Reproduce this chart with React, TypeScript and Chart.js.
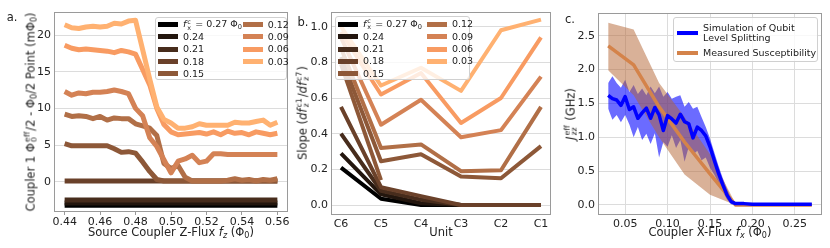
import React, { useEffect, useRef } from 'react';
import { Chart, registerables } from 'chart.js';
Chart.register(...registerables);

const FONT = "'DejaVu Sans', sans-serif";
Chart.defaults.font.family = FONT;
Chart.defaults.color = '#222';

// ---------- data ----------
const fxLabels = ['0.27', '0.24', '0.21', '0.18', '0.15', '0.12', '0.09', '0.06', '0.03'];
const copperColors = ['#000000', '#23160e', '#472c1c', '#6a412a', '#8d5838', '#b16f47', '#d48255', '#f89b62', '#ffb171'];

// panel a
const fzA = [0.440, 0.444, 0.448, 0.452, 0.456, 0.460, 0.464, 0.468, 0.472, 0.476, 0.480, 0.484, 0.488, 0.492, 0.496, 0.500, 0.504, 0.508, 0.512, 0.516, 0.520, 0.524, 0.528, 0.532, 0.536, 0.540, 0.544, 0.548, 0.552, 0.556, 0.560];
const a027 = [-3.2, -3.2, -3.2, -3.2, -3.2, -3.2, -3.2, -3.2, -3.2, -3.2, -3.2, -3.2, -3.2, -3.2, -3.2, -3.2, -3.2, -3.2, -3.2, -3.2, -3.2, -3.2, -3.2, -3.2, -3.2, -3.2, -3.2, -3.2, -3.2, -3.2, -3.2];
const a024 = [-2.9, -2.9, -2.9, -2.9, -2.9, -2.9, -2.9, -2.9, -2.9, -2.9, -2.9, -2.9, -2.9, -2.9, -2.9, -2.9, -2.9, -2.9, -2.9, -2.9, -2.9, -2.9, -2.9, -2.9, -2.9, -2.9, -2.9, -2.9, -2.9, -2.9, -2.9];
const a021 = [-2.5, -2.5, -2.5, -2.5, -2.5, -2.5, -2.5, -2.5, -2.5, -2.5, -2.5, -2.5, -2.5, -2.5, -2.5, -2.5, -2.5, -2.5, -2.5, -2.5, -2.5, -2.5, -2.5, -2.5, -2.5, -2.5, -2.5, -2.5, -2.5, -2.5, -2.5];
const a018 = [0.1, 0.1, 0.1, 0.1, 0.1, 0.1, 0.1, 0.1, 0.1, 0.1, 0.1, 0.1, 0.1, 0.1, 0.1, 0.1, 0.1, 0.1, 0.1, 0.1, 0.1, 0.1, 0.1, 0.1, 0.1, 0.1, 0.1, 0.1, 0.1, 0.1, 0.1];
const a015 = [5.2, 4.9, 4.9, 4.9, 4.9, 4.9, 4.9, 4.5, 4.0, 4.1, 3.9, 2.7, 1.4, 0.3, 0.1, 0.1, 0.1, 0.1, 0.1, 0.1, 0.1, 0.1, 0.1, 0.1, 0.1, 0.1, 0.1, 0.1, 0.1, 0.1, 0.1];
const a012 = [9.2, 8.9, 9.0, 8.9, 8.6, 8.9, 8.4, 8.7, 8.6, 8.6, 7.9, 7.6, 7.3, 6.3, 2.5, 1.8, 2.2, 0.6, 0.1, 0.1, 0.1, 0.1, 0.1, 0.2, 0.4, 0.2, 0.3, 0.1, 0.3, 0.2, 0.4];
const a009 = [12.3, 11.8, 12.1, 12.0, 12.2, 12.2, 12.3, 12.5, 12.3, 12.0, 10.0, 9.0, 6.0, 4.8, 3.0, 1.2, 2.8, 3.1, 3.6, 2.6, 2.8, 3.8, 3.8, 3.7, 3.7, 3.7, 3.7, 3.7, 3.7, 3.7, 3.7];
const a006 = [18.6, 18.2, 18.0, 18.1, 18.0, 17.9, 17.8, 17.6, 17.9, 17.7, 17.4, 15.3, 13.2, 10.0, 7.8, 6.8, 6.4, 6.5, 6.6, 6.7, 6.5, 6.8, 6.4, 6.9, 6.6, 6.7, 6.4, 6.8, 6.6, 6.4, 6.6];
const a003 = [21.4, 21.0, 20.9, 21.1, 21.2, 21.1, 21.2, 21.6, 21.5, 21.9, 22.0, 18.0, 14.0, 10.2, 8.5, 8.0, 7.3, 7.3, 7.5, 7.9, 7.7, 7.7, 7.7, 7.7, 8.1, 8.0, 8.0, 8.2, 8.4, 7.7, 8.1];
const seriesA = [a027, a024, a021, a018, a015, a012, a009, a006, a003];
const xTicksA = [0.44, 0.46, 0.48, 0.50, 0.52, 0.54, 0.56];
const yTicksA = [0, 5, 10, 15, 20];

// panel b
const units = ['C6', 'C5', 'C4', 'C3', 'C2', 'C1'];
const b027 = [0.21, 0.035, 0.0, 0.0, 0.0, 0.0];
const b024 = [0.29, 0.06, 0.01, 0.0, 0.0, 0.0];
const b021 = [0.40, 0.08, 0.03, 0.0, 0.0, 0.0];
const b018 = [0.55, 0.10, 0.05, 0.0, 0.0, 0.0];
const b015 = [0.83, 0.245, 0.285, 0.16, 0.15, 0.33];
const b012 = [0.88, 0.32, 0.34, 0.19, 0.195, 0.55];
const b009 = [0.94, 0.45, 0.59, 0.38, 0.42, 0.72];
const b006 = [0.97, 0.62, 0.74, 0.46, 0.60, 0.94];
const b003 = [1.00, 0.67, 0.77, 0.64, 0.98, 1.04];
const bPartial = [0.79, 0.14, null, null, null, null];
const seriesB = [b027, b024, b021, b018, b015, b012, b009, b006, b003];
const yTicksB = [0, 0.2, 0.4, 0.6, 0.8, 1.0];

// panel c
const fxSim = [0.030, 0.035, 0.040, 0.045, 0.050, 0.055, 0.060, 0.065, 0.070, 0.075, 0.080, 0.085, 0.090, 0.095, 0.100, 0.105, 0.110, 0.115, 0.120, 0.125, 0.130, 0.135, 0.140, 0.145, 0.150, 0.155, 0.160, 0.165, 0.170, 0.175, 0.180, 0.19, 0.20, 0.21, 0.22, 0.23, 0.24, 0.25, 0.26, 0.27];
const simJ = [1.62, 1.57, 1.55, 1.47, 1.60, 1.41, 1.45, 1.28, 1.36, 1.43, 1.28, 1.44, 1.33, 1.10, 1.32, 1.27, 1.21, 1.34, 1.23, 1.20, 0.99, 1.15, 1.10, 1.02, 0.86, 0.66, 0.47, 0.30, 0.15, 0.05, 0.02, 0.02, 0.01, 0.01, 0.01, 0.01, 0.01, 0.01, 0.01, 0.01];
const simUp = [1.80, 1.90, 1.80, 1.73, 1.85, 1.67, 1.77, 1.64, 1.72, 1.62, 1.75, 1.65, 1.75, 1.60, 1.67, 1.57, 1.60, 1.62, 1.45, 1.52, 1.42, 1.45, 1.30, 1.15, 0.98, 0.78, 0.58, 0.40, 0.24, 0.10, 0.04, 0.03, 0.03, 0.02, 0.02, 0.02, 0.02, 0.02, 0.02, 0.02];
const simLo = [1.42, 1.26, 1.33, 1.22, 1.33, 1.19, 1.00, 1.15, 0.96, 1.05, 0.90, 1.06, 0.70, 0.93, 0.86, 1.03, 0.84, 0.96, 0.64, 0.86, 0.74, 0.80, 0.66, 0.70, 0.55, 0.45, 0.33, 0.20, 0.08, 0.01, 0.00, 0.01, 0.00, 0.00, 0.00, 0.00, 0.00, 0.00, 0.00, 0.00];
const fxMeas = [0.03, 0.06, 0.09, 0.12, 0.15, 0.18, 0.21, 0.24, 0.27];
const measJ = [2.35, 2.07, 1.45, 0.93, 0.46, 0.0, 0.0, 0.0, 0.0];
const measUp = [2.69, 2.59, 1.80, 1.30, 0.75, 0.02, 0.01, 0.01, 0.01];
const measLo = [1.99, 1.62, 1.00, 0.45, 0.15, 0.0, 0.0, 0.0, 0.0];
const xTicksC = [0.05, 0.10, 0.15, 0.20, 0.25];
const yTicksC = [0, 0.5, 1.0, 1.5, 2.0, 2.5];

// ---------- styling ----------
const FRAME = '#9a9a9a';
const GRID = '#dcdcdc';
const TICK_FONT = { family: FONT, size: 11 };
const BLUE = '#0000ff';
const ORANGE = '#d4834a';

const framePlugin = {
  id: 'frame',
  afterDraw(chart: any) {
    const { ctx, chartArea: a } = chart;
    ctx.save();
    ctx.strokeStyle = FRAME;
    ctx.lineWidth = 1;
    ctx.strokeRect(Math.round(a.left) + 0.5, Math.round(a.top) + 0.5, Math.round(a.right - a.left) - 1, Math.round(a.bottom - a.top) - 1);
    ctx.restore();
  },
};

function xScale(min: number, max: number, ticks: number[], fmt: (v: number) => string, height: number, gridOnArea: boolean, tickMarks: boolean) {
  return {
    type: 'linear',
    min, max,
    afterBuildTicks: (s: any) => { s.ticks = ticks.map((v) => ({ value: v })); },
    afterFit: (s: any) => { s.height = height; },
    ticks: { callback: (v: any) => fmt(Number(v)), font: TICK_FONT, padding: tickMarks ? 1 : 3, maxRotation: 0, autoSkip: false, color: '#222' },
    grid: { drawOnChartArea: gridOnArea, color: GRID, drawTicks: tickMarks, tickLength: 3, tickColor: FRAME, lineWidth: 1 },
    border: { display: false },
  };
}
function yScale(min: number, max: number, ticks: number[], fmt: (v: number) => string, width: number) {
  return {
    type: 'linear',
    min, max,
    afterBuildTicks: (s: any) => { s.ticks = ticks.map((v) => ({ value: v })); },
    afterFit: (s: any) => { s.width = width; },
    ticks: { callback: (v: any) => fmt(Number(v)), font: TICK_FONT, padding: 3, color: '#222' },
    grid: { drawOnChartArea: true, color: GRID, drawTicks: false, lineWidth: 1 },
    border: { display: false },
  };
}
function baseOptions(padding: any, scales: any) {
  return {
    responsive: false,
    animation: false,
    devicePixelRatio: 1,
    events: [],
    layout: { padding },
    plugins: { legend: { display: false }, tooltip: { enabled: false }, title: { display: false } },
    scales,
  };
}

function configA() {
  return {
    type: 'line',
    data: {
      datasets: seriesA.map((vals, i) => ({
        label: fxLabels[i],
        data: fzA.map((x, j) => ({ x, y: vals[j] })),
        borderColor: copperColors[i],
        backgroundColor: copperColors[i],
        borderWidth: 5,
        pointRadius: 0,
        fill: false,
        tension: 0,
        order: 20 - i,
        borderJoinStyle: 'round',
        borderCapStyle: 'butt',
      })),
    },
    options: baseOptions({ left: 10, right: 8, top: 12, bottom: 16 }, {
      x: xScale(0.434, 0.566, xTicksA, (v) => v.toFixed(2), 20, false, true),
      y: yScale(-4.13, 23.14, yTicksA, (v) => String(v), 44),
    }),
    plugins: [framePlugin],
  };
}

function configB() {
  const ds: any[] = seriesB.map((vals, i) => ({
    label: fxLabels[i],
    data: vals.map((y, j) => ({ x: j, y })),
    borderColor: copperColors[i],
    borderWidth: 4,
    pointRadius: 0,
    fill: false,
    tension: 0,
    order: 20 - i,
    borderJoinStyle: 'round',
  }));
  ds.push({
    label: fxLabels[4] + ' (partial)',
    data: bPartial.map((y, j) => ({ x: j, y })),
    borderColor: copperColors[4],
    borderWidth: 4,
    pointRadius: 0,
    fill: false,
    spanGaps: false,
    order: 15,
  });
  return {
    type: 'line',
    data: { datasets: ds },
    options: baseOptions({ left: 5, right: 3, top: 12, bottom: 13 }, {
      x: xScale(-0.25, 5.25, [0, 1, 2, 3, 4, 5], (v) => units[Math.round(v)] ?? '', 20, false, false),
      y: yScale(-0.056, 1.0824, yTicksB, (v) => v.toFixed(1), 30),
    }),
    plugins: [framePlugin],
  };
}

function configC() {
  const pts = (xs: number[], ys: number[]) => xs.map((x, j) => ({ x, y: ys[j] }));
  return {
    type: 'line',
    data: {
      datasets: [
        { label: 'simUp', data: pts(fxSim, simUp), borderWidth: 0, borderColor: 'rgba(0,0,0,0)', pointRadius: 0, fill: '+1', backgroundColor: 'rgba(0,0,255,0.58)', order: 4 },
        { label: 'simLo', data: pts(fxSim, simLo), borderWidth: 0, borderColor: 'rgba(0,0,0,0)', pointRadius: 0, fill: false, order: 4 },
        { label: 'measUp', data: pts(fxMeas, measUp), borderWidth: 0, borderColor: 'rgba(0,0,0,0)', pointRadius: 0, fill: '+1', backgroundColor: 'rgba(180,100,50,0.5)', order: 3 },
        { label: 'measLo', data: pts(fxMeas, measLo), borderWidth: 0, borderColor: 'rgba(0,0,0,0)', pointRadius: 0, fill: false, order: 3 },
        { label: 'Measured Susceptibility', data: pts(fxMeas, measJ), borderColor: ORANGE, borderWidth: 3.5, pointRadius: 0, fill: false, order: 2, borderJoinStyle: 'round' },
        { label: 'Simulation of Qubit Level Splitting', data: pts(fxSim, simJ), borderColor: BLUE, borderWidth: 3.5, pointRadius: 0, fill: false, order: 1, borderJoinStyle: 'round' },
      ],
    },
    options: baseOptions({ left: 14, right: 8, top: 13, bottom: 13 }, {
      x: xScale(0.018, 0.282, xTicksC, (v) => v.toFixed(2), 20, true, false),
      y: yScale(-0.148, 2.835, yTicksC, (v) => v.toFixed(1), 30),
    }),
    plugins: [framePlugin],
  };
}

// ---------- components ----------
function ChartCanvas({ left, width, make }: { left: number; width: number; make: () => any }) {
  const ref = useRef<HTMLCanvasElement>(null);
  useEffect(() => {
    const chart = new Chart(ref.current as HTMLCanvasElement, make());
    return () => chart.destroy();
  }, []);
  return <canvas ref={ref} width={width} height={248} style={{ position: 'absolute', left, top: 0, width, height: 248 }} />;
}

const SS = ({ sup, sub }: { sup: string; sub: string }) => (
  <span style={{ display: 'inline-flex', flexDirection: 'column', verticalAlign: 'middle', fontSize: '0.68em', lineHeight: 0.95, margin: '0 1px' }}>
    <span style={{ fontStyle: 'normal' }}>{sup}</span>
    <span>{sub}</span>
  </span>
);
const Sub = ({ children }: { children: any }) => <sub style={{ fontSize: '0.7em', verticalAlign: '-0.25em', lineHeight: 0 }}>{children}</sub>;

const txt: React.CSSProperties = { position: 'absolute', fontFamily: FONT, color: '#222', whiteSpace: 'nowrap', lineHeight: 1 };

function Title({ x, y, rotate, size = 11.5, children }: { x: number; y: number; rotate?: boolean; size?: number; children: any }) {
  return (
    <div style={{ ...txt, left: x, top: y, fontSize: size, transform: `translate(-50%,-50%)${rotate ? ' rotate(-90deg)' : ''}` }}>{children}</div>
  );
}

const fxFirst = (
  <span>
    <i>f</i><SS sup="c" sub="x" /> = 0.27 Φ<Sub>0</Sub>
  </span>
);

function FxLegend({ left, top, width, height, col2, rowY }: { left: number; top: number; width: number; height: number; col2: number; rowY: number }) {
  const items = fxLabels.map((l, i) => ({ label: i === 0 ? fxFirst : l, color: copperColors[i] }));
  return (
    <div style={{ position: 'absolute', left, top, width, height, background: 'rgba(255,255,255,0.8)', border: '1px solid #d0d0d0', borderRadius: 3, boxSizing: 'border-box' }}>
      {items.map((it, i) => {
        const col = i < 5 ? 0 : 1;
        const row = i < 5 ? i : i - 5;
        const x = col === 0 ? 2 : col2;
        const y = rowY + row * 12.35;
        return (
          <React.Fragment key={i}>
            <div style={{ position: 'absolute', left: x, top: y - 2.5, width: 20, height: 5, background: it.color }} />
            <div style={{ ...txt, left: x + 25, top: y, transform: 'translateY(-50%)', fontSize: 9.5 }}>{it.label}</div>
          </React.Fragment>
        );
      })}
    </div>
  );
}

function CLegend() {
  return (
    <div style={{ position: 'absolute', left: 673, top: 17, width: 145, height: 45, background: 'rgba(255,255,255,0.8)', border: '1px solid #d0d0d0', borderRadius: 3, boxSizing: 'border-box' }}>
      <div style={{ position: 'absolute', left: 3, top: 13, width: 21, height: 4, background: BLUE }} />
      <div style={{ ...txt, left: 29, top: 15, transform: 'translateY(-50%)', fontSize: 9.5, lineHeight: 1.1 }}>
        Simulation of Qubit<br />Level Splitting
      </div>
      <div style={{ position: 'absolute', left: 3, top: 33, width: 21, height: 4, background: ORANGE }} />
      <div style={{ ...txt, left: 29, top: 35, transform: 'translateY(-50%)', fontSize: 9.5 }}>Measured Susceptibility</div>
    </div>
  );
}

export default function App() {
  return (
    <div style={{ position: 'fixed', left: 0, top: 0, width: 830, height: 248, background: '#fff', overflow: 'hidden' }}>
      <ChartCanvas left={0} width={296} make={configA} />
      <ChartCanvas left={296} width={258} make={configB} />
      <ChartCanvas left={554} width={276} make={configC} />

      {/* panel labels */}
      <Title x={12} y={18} size={11.5}>a.</Title>
      <Title x={303} y={23} size={11.5}>b.</Title>
      <Title x={570} y={20} size={11.5}>c.</Title>

      {/* axis titles */}
      <Title x={31} y={112} rotate>
        Coupler 1 Φ<SS sup="eff" sub="0" />/2 - Φ<Sub>0</Sub>/2 Point (mΦ<Sub>0</Sub>)
      </Title>
      <Title x={171} y={233}>
        Source Coupler Z-Flux <i>f</i><Sub><i>z</i></Sub> (Φ<Sub>0</Sub>)
      </Title>
      <Title x={303} y={113} rotate>
        Slope (<i>df</i><SS sup="c1" sub="z" />/<i>df</i><SS sup="c7" sub="z" />)
      </Title>
      <Title x={441} y={233}>Unit</Title>
      <Title x={571} y={114} rotate>
        <i>J</i><SS sup="eff" sub="zz" /> (GHz)
      </Title>
      <Title x={710} y={233}>
        Coupler X-Flux <i>f</i><Sub><i>x</i></Sub> (Φ<Sub>0</Sub>)
      </Title>

      <FxLegend left={155} top={17} width={132} height={63} col2={86.7} rowY={6.5} />
      <FxLegend left={335} top={16} width={135} height={64} col2={91} rowY={7.3} />
      <CLegend />
    </div>
  );
}
